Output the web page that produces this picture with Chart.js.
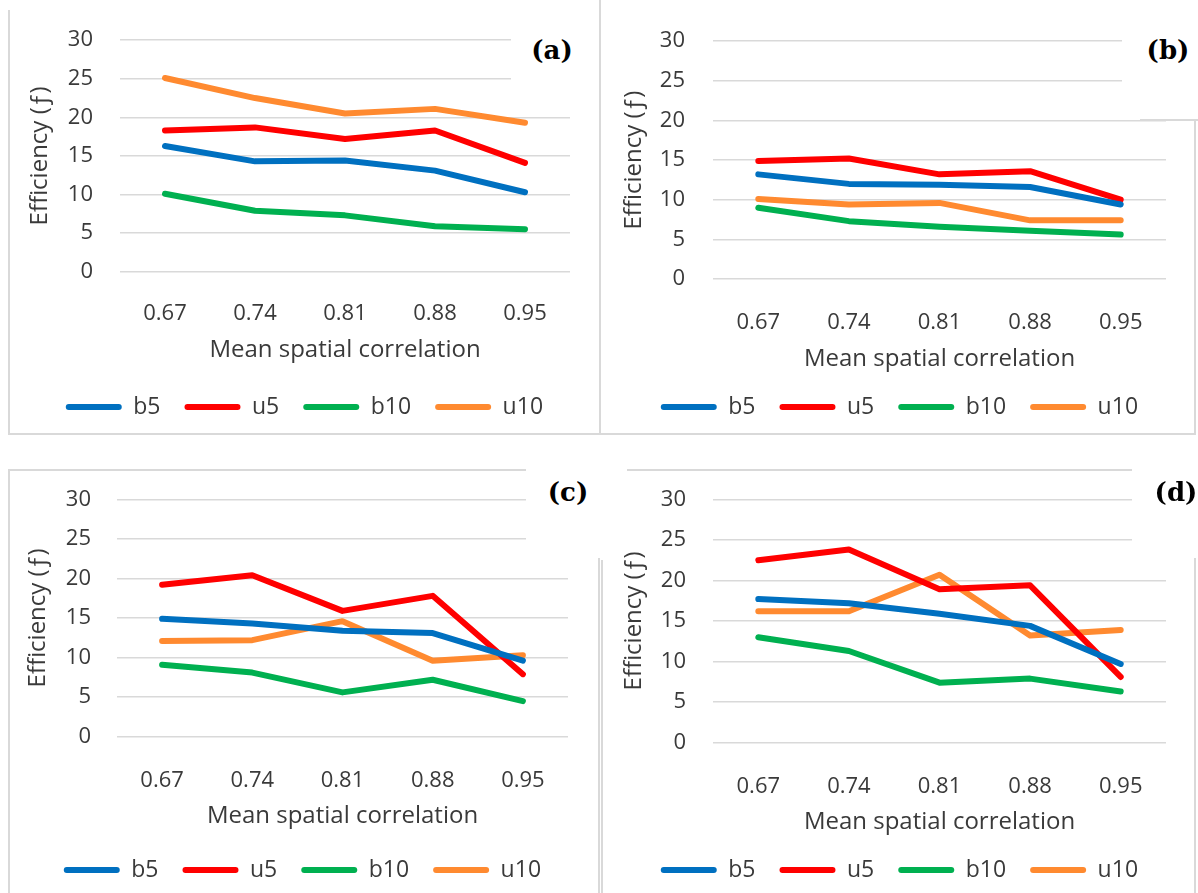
<!DOCTYPE html>
<html>
<head>
<meta charset="utf-8">
<script src="https://cdn.jsdelivr.net/npm/chart.js@4/dist/chart.umd.min.js"></script>
<style>
  body { margin:0; background:#fff; }
  #wrap { position:relative; width:1198px; height:893px; overflow:hidden; background:#fff; }
  #wrap canvas { position:absolute; }
  .ln { position:absolute; background:#d9d9d9; }
  .cover { position:absolute; background:#fff; }
  .tag { position:absolute; font:bold 26px "DejaVu Serif", serif; color:#000; transform:translate(-50%,-50%); white-space:nowrap; }
</style>
</head>
<body>
<div id="wrap">
  <canvas id="ca" width="590" height="440" style="left:10px;top:0px"></canvas>
  <canvas id="cb" width="592" height="440" style="left:603px;top:0px"></canvas>
  <canvas id="cc" width="590" height="446" style="left:10px;top:447px"></canvas>
  <canvas id="cd" width="592" height="446" style="left:603px;top:447px"></canvas>

  <!-- panel borders (left over from the cropped figure) -->
  <div class="ln" style="left:8px;top:10px;width:2px;height:425px"></div>
  <div class="ln" style="left:8px;top:433px;width:1187px;height:2px"></div>
  <div class="ln" style="left:599px;top:0px;width:2px;height:435px"></div>
  <div class="ln" style="left:1140px;top:119px;width:58px;height:2px"></div>
  <div class="ln" style="left:1194px;top:119px;width:2px;height:316px"></div>
  <div class="ln" style="left:8px;top:469px;width:518px;height:2px"></div>
  <div class="ln" style="left:8px;top:469px;width:2px;height:424px"></div>
  <div class="ln" style="left:598px;top:558px;width:2px;height:335px"></div>
  <div class="ln" style="left:627px;top:469px;width:505px;height:2px"></div>
  <div class="ln" style="left:601px;top:560px;width:2px;height:333px"></div>
  <div class="ln" style="left:1194px;top:558px;width:2px;height:335px"></div>

  <!-- white boxes behind the panel letters -->
  <div class="cover" style="left:511px;top:20px;width:86px;height:80px"></div>
  <div class="cover" style="left:1122px;top:20px;width:72px;height:98px"></div>
  <div class="cover" style="left:526px;top:472px;width:72px;height:86px"></div>
  <div class="cover" style="left:1132px;top:472px;width:62px;height:86px"></div>
  <div class="tag" style="left:552px;top:50px">(a)</div>
  <div class="tag" style="left:1168px;top:50px">(b)</div>
  <div class="tag" style="left:568px;top:492px">(c)</div>
  <div class="tag" style="left:1176px;top:492px">(d)</div>
</div>
<script>
// categories
const xLabels = ['0.67', '0.74', '0.81', '0.88', '0.95'];
const seriesNames = ['b5', 'u5', 'b10', 'u10'];
const seriesColors = ['#0070c0', '#ff0000', '#00b050', '#ff8a30'];

// (a)
const aB5  = [16.3, 14.3, 14.4, 13.1, 10.3];
const aU5  = [18.3, 18.7, 17.2, 18.3, 14.1];
const aB10 = [10.1, 7.9, 7.3, 5.9, 5.5];
const aU10 = [25.1, 22.5, 20.5, 21.1, 19.3];
// (b)
const bB5  = [13.2, 12.0, 11.9, 11.6, 9.4];
const bU5  = [14.9, 15.2, 13.2, 13.6, 10.0];
const bB10 = [9.0, 7.3, 6.6, 6.1, 5.6];
const bU10 = [10.1, 9.4, 9.6, 7.4, 7.4];
// (c)
const cB5  = [14.9, 14.3, 13.4, 13.1, 9.6];
const cU5  = [19.2, 20.4, 15.9, 17.8, 7.9];
const cB10 = [9.1, 8.1, 5.6, 7.2, 4.5];
const cU10 = [12.1, 12.2, 14.6, 9.6, 10.3];
// (d)
const dB5  = [17.7, 17.2, 15.9, 14.4, 9.7];
const dU5  = [22.5, 23.8, 18.9, 19.4, 8.1];
const dB10 = [13.0, 11.3, 7.4, 7.9, 6.3];
const dU10 = [16.2, 16.2, 20.7, 13.2, 13.9];

const yTicks = [0, 5, 10, 15, 20, 25, 30];

// where each panel sits on the page
var panels = [
  {id:'ca', x:10,  y:0,   w:590, h:440, L:120, R:570,  T:39,    B:271.7, tickY:306, titleY:350, legY:407, yTitleX:40,  yGap:27, data:[aB5, aU5, aB10, aU10]},
  {id:'cb', x:603, y:0,   w:592, h:440, L:713, R:1166, T:39,    B:279,   tickY:315, titleY:359, legY:407, yTitleX:634, yGap:28, data:[bB5, bU5, bB10, bU10]},
  {id:'cc', x:10,  y:447, w:590, h:446, L:117, R:568,  T:499.3, B:736.7, tickY:773, titleY:816, legY:870, yTitleX:38,  yGap:26, data:[cB5, cU5, cB10, cU10]},
  {id:'cd', x:603, y:447, w:592, h:446, L:713, R:1166, T:499.3, B:742.7, tickY:779, titleY:822, legY:870, yTitleX:634, yGap:27, data:[dB5, dU5, dB10, dU10]}
];

var font = '"Open Sans", sans-serif';
var txt = '#3a3a3a';
var legPad = 24, legFont = 23, tickFont = 22, titleFont = 24;

function makeChart(p){
  var boxLeft = p.yTitleX - 1.2;
  var yw = p.L - boxLeft;
  var legTop = p.legY - (legPad + legFont/2);
  var legH = legFont + legPad + 10;
  var hx = legTop - p.B;

  var datasets = seriesNames.map(function(name, i){
    return {
      label: name,
      data: p.data[i],
      borderColor: seriesColors[i],
      backgroundColor: seriesColors[i],
      borderWidth: 6,
      pointRadius: 0,
      pointHoverRadius: 0,
      tension: 0,
      borderCapStyle: 'round',
      borderJoinStyle: 'round'
    };
  });

  var config = {
    type: 'line',
    data: { labels: xLabels, datasets: datasets },
    options: {
      responsive: false,
      animation: false,
      layout: {
        padding: { left: boxLeft - p.x, right: p.x + p.w - p.R, top: p.T - p.y, bottom: p.y + p.h - (legTop + legH) }
      },
      plugins: {
        tooltip: { enabled: false },
        legend: {
          position: 'bottom',
          labels: {
            color: txt,
            font: { family: font, size: legFont },
            boxWidth: 56,
            boxHeight: 6,
            padding: legPad,
            useBorderRadius: true,
            borderRadius: 3,
            generateLabels: function(chart){
              return Chart.defaults.plugins.legend.labels.generateLabels(chart).map(function(l){
                l.lineWidth = 0;
                return l;
              });
            }
          }
        }
      },
      scales: {
        x: {
          offset: true,
          grid: { display: false },
          border: { display: false },
          ticks: { color: txt, font: { family: font, size: tickFont }, padding: p.tickY - p.B - tickFont*1.2/2, maxRotation: 0 },
          title: { display: true, text: 'Mean spatial correlation', color: txt,
                   font: { family: font, size: titleFont, lineHeight: 1 },
                   padding: { top: 0, bottom: legTop - titleFont/2 - p.titleY } },
          afterFit: function(s){ s.height = hx; }
        },
        y: {
          min: 0, max: 30,
          afterBuildTicks: function(s){ s.ticks = yTicks.map(function(v){ return {value: v}; }); },
          grid: { color: '#d9d9d9', lineWidth: 1.5, drawTicks: false },
          border: { display: false },
          ticks: { color: txt, font: { family: font, size: tickFont }, padding: p.yGap },
          title: { display: true, text: 'Efficiency (ƒ)', color: txt,
                   font: { family: font, size: 24, lineHeight: 0.1 }, padding: 0 },
          afterFit: function(s){ s.width = yw; }
        }
      }
    }
  };
  return new Chart(document.getElementById(p.id).getContext('2d'), config);
}

panels.forEach(makeChart);
</script>
</body>
</html>
